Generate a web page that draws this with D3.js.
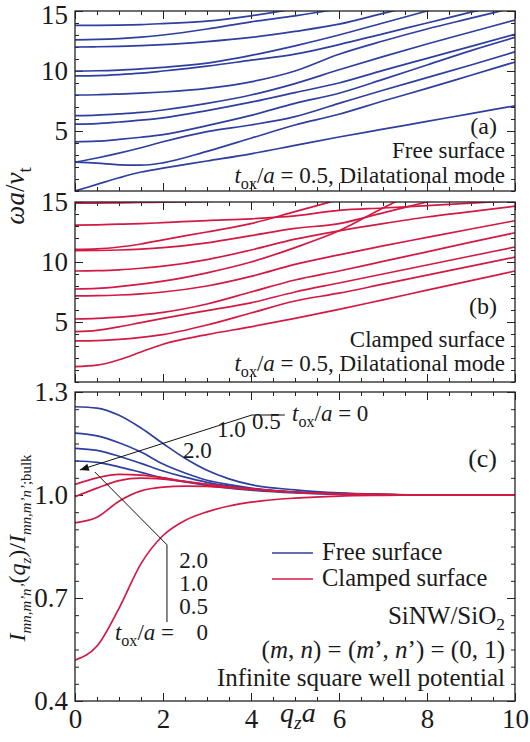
<!DOCTYPE html>
<html>
<head>
<meta charset="utf-8">
<script src="https://cdn.jsdelivr.net/npm/d3@7"></script>
<style>
  body { margin: 0; background: #fff; }
  text { font-family: "Liberation Serif", "Times New Roman", serif; fill: #1a1a1a; }
</style>
</head>
<body>
<div id="chart"></div>
<script>
// dispersion curves, omega*a/v_t sampled at qDisp
const qDisp = [0, 0.5, 1, 1.5, 2, 3, 4, 5, 6, 7, 8, 9, 10];
const freeModes = [
    [0, 0.55, 1.1, 1.58, 1.9, 2.5, 3.1, 3.8, 4.5, 5.15, 5.8, 6.45, 7.1],
    [2.4, 2.32, 2.18, 2.15, 2.35, 3.3, 4.4, 5.5, 6.4, 7.5, 8.55, 9.65, 10.75],
    [2.4, 2.75, 3.15, 3.6, 4.1, 4.95, 5.5, 6.2, 7.3, 8.4, 9.45, 10.5, 11.6],
    [4.1, 4.15, 4.3, 4.48, 4.7, 5.45, 6.3, 7.3, 8.15, 9.3, 10.5, 11.7, 12.8],
    [5.58, 5.62, 5.75, 5.9, 6.1, 6.7, 7.4, 8.2, 9.0, 10.05, 11.05, 12.05, 13.06],
    [6.28, 6.32, 6.42, 6.55, 6.75, 7.3, 8.0, 8.95, 10.1, 11.2, 12.25, 13.25, 14.25],
    [8.0, 8.02, 8.08, 8.15, 8.25, 8.55, 9.1, 10.0, 11.4, 12.5, 13.5, 14.4, 15.3],
    [9.6, 9.62, 9.7, 9.82, 10.0, 10.4, 10.9, 11.4, 12.2, 13.1, 14.0, 14.9, 15.8],
    [10.0, 10.02, 10.08, 10.18, 10.3, 10.65, 11.3, 12.1, 13.0, 14.0, 15.0, 16.0, 17.0],
    [12.0, 12.02, 12.06, 12.12, 12.2, 12.45, 12.8, 13.3, 13.9, 14.8, 15.7, 16.6, 17.5],
    [12.6, 12.63, 12.7, 12.82, 13.0, 13.5, 14.1, 14.6, 15.2, 16.0, 17.0, 18.0, 19.0],
    [13.8, 13.81, 13.83, 13.87, 13.95, 14.15, 14.6, 15.2, 16.0, 17.0, 18.0, 19.0, 20.0]
];
const clampedModes = [
    [1.28, 1.4, 1.85, 2.5, 3.15, 3.95, 4.6, 5.3, 6.05, 6.85, 7.65, 8.45, 9.25],
    [3.42, 3.45, 3.55, 3.72, 3.95, 4.75, 5.75, 6.75, 7.4, 8.15, 8.9, 9.65, 10.4],
    [4.19, 4.3, 4.6, 4.95, 5.3, 5.95, 6.6, 7.5, 8.25, 9.0, 9.75, 10.5, 11.25],
    [5.25, 5.3, 5.4, 5.58, 5.8, 6.5, 7.5, 8.5, 9.25, 10.05, 10.85, 11.65, 12.44],
    [7.17, 7.19, 7.25, 7.35, 7.5, 8.0, 8.8, 9.8, 10.6, 11.35, 12.05, 12.75, 13.44],
    [7.75, 7.8, 7.95, 8.15, 8.4, 9.1, 10.0, 11.2, 12.6, 14.5, 16.3, 18.0, 19.7],
    [9.25, 9.28, 9.35, 9.48, 9.65, 10.2, 11.0, 11.9, 12.6, 13.2, 13.75, 14.2, 14.65],
    [10.94, 10.96, 11.0, 11.08, 11.2, 11.6, 12.2, 12.8, 13.2, 14.1, 15.0, 15.9, 16.8],
    [11.06, 11.1, 11.25, 11.5, 11.85, 12.5, 13.2, 14.2, 15.2, 16.2, 17.2, 18.2, 19.2],
    [13.08, 13.1, 13.15, 13.2, 13.28, 13.45, 13.6, 13.85, 14.3, 14.5, 14.7, 14.9, 15.1],
    [14.9, 14.91, 14.93, 14.96, 14.99, 15.05, 15.3, 15.8, 16.4, 17.0, 17.6, 18.2, 18.8]
];

// overlap ratio I/I_bulk, one row per t_ox/a = 0, 0.5, 1.0, 2.0
const qOverlap = [0, 0.5, 1, 1.5, 2, 2.5, 3, 3.5, 4, 5, 6, 7, 8, 10];
const freeOverlap = [
    [1.257, 1.253, 1.232, 1.195, 1.15, 1.107, 1.072, 1.047, 1.03, 1.015, 1.006, 1.002, 1.0, 1.0],
    [1.18, 1.172, 1.152, 1.125, 1.09, 1.064, 1.043, 1.03, 1.02, 1.009, 1.004, 1.001, 1.0, 1.0],
    [1.136, 1.13, 1.113, 1.092, 1.07, 1.052, 1.037, 1.026, 1.018, 1.008, 1.003, 1.001, 1.0, 1.0],
    [1.099, 1.095, 1.082, 1.066, 1.05, 1.038, 1.028, 1.02, 1.014, 1.006, 1.002, 1.0, 1.0, 1.0]
];
const clampedOverlap = [
    [0.519, 0.56, 0.67, 0.8, 0.882, 0.926, 0.951, 0.968, 0.979, 0.991, 0.997, 0.999, 1.0, 1.0],
    [0.919, 0.935, 0.982, 1.012, 1.023, 1.026, 1.025, 1.021, 1.016, 1.008, 1.003, 1.001, 1.0, 1.0],
    [0.995, 1.02, 1.042, 1.049, 1.046, 1.039, 1.031, 1.024, 1.018, 1.008, 1.003, 1.001, 1.0, 1.0],
    [1.031, 1.05, 1.06, 1.058, 1.05, 1.04, 1.031, 1.023, 1.017, 1.008, 1.003, 1.001, 1.0, 1.0]
];
const toxLabels = ["0", "0.5", "1.0", "2.0"];

const dispTicks = [5, 10, 15];
const dispMinor = d3.range(0, 16, 1);
const overlapTicks = [0.4, 0.7, 1.0, 1.3];
const overlapMinor = d3.range(0, 19).map(i => 0.4 + i * 0.05);
const qTicks = [0, 2, 4, 6, 8, 10];
const qMinor = d3.range(0, 21).map(i => i * 0.5);

const blue = "#2e3f9f";
const red = "#d21a44";
const serif = '"Liberation Serif", "Times New Roman", serif';

const svg = d3.select("#chart")
    .append("svg")
    .attr("width", 530)
    .attr("height", 742);

const x = d3.scaleLinear().domain([0, 10]).range([75, 515]);
const ya = d3.scaleLinear().domain([0, 15]).range([191, 11]);
const yb = d3.scaleLinear().domain([0, 15]).range([382, 202]);
const yc = d3.scaleLinear().domain([0.4, 1.3]).range([701, 392]);

const defs = svg.append("defs");
defs.append("marker")
    .attr("id", "arrowhead")
    .attr("viewBox", "0 -5 10 10")
    .attr("refX", 10)
    .attr("markerWidth", 15)
    .attr("markerHeight", 9)
    .attr("markerUnits", "userSpaceOnUse")
    .attr("orient", "auto")
    .append("path")
        .attr("d", "M0,-4L10,0L0,4Z")
        .style("fill", "#111");

// frame, inward ticks on all four sides
function drawPanel(id, y, major, minor, fmt, xLabels) {
    const [bottom, top] = y.range();
    const g = svg.append("g").attr("class", "panel-" + id);

    defs.append("clipPath").attr("id", "clip-" + id)
        .append("rect")
        .attr("x", x(0)).attr("y", top)
        .attr("width", x(10) - x(0)).attr("height", bottom - top);

    const sides = [
        [d3.axisLeft, y, `translate(${x(0)},0)`, major, minor, fmt, 7],
        [d3.axisRight, y, `translate(${x(10)},0)`, major, minor, "", 6],
        [d3.axisTop, x, `translate(0,${top})`, qTicks, qMinor, "", 6],
        [d3.axisBottom, x, `translate(0,${bottom})`, qTicks, qMinor, xLabels ? d3.format("d") : "", 8]
    ];
    sides.forEach(([axis, scale, tr, maj, mnr, f, pad]) => {
        g.append("g").attr("transform", tr)
            .call(axis(scale).tickValues(mnr).tickSize(-4).tickFormat(""))
            .call(s => s.select(".domain").remove());
        g.append("g").attr("transform", tr)
            .attr("class", "major")
            .call(axis(scale).tickValues(maj).tickSize(-8).tickPadding(pad).tickFormat(f))
            .call(s => s.select(".domain").remove())
            .call(s => s.selectAll("text")
                .style("font-family", serif)
                .style("font-size", "27px")
                .style("fill", "#1a1a1a"));
    });
    g.selectAll(".tick line").attr("stroke", "#222").attr("stroke-width", 1);

    g.append("rect")
        .attr("x", x(0)).attr("y", top)
        .attr("width", x(10) - x(0)).attr("height", bottom - top)
        .style("fill", "none")
        .style("stroke", "#222")
        .style("stroke-width", 1.3);

    return g;
}

function curves(g, id, y, qs, rows, color) {
    const line = d3.line()
        .x(d => x(d[0]))
        .y(d => y(d[1]))
        .curve(d3.curveMonotoneX);
    g.insert("g", "rect")
        .attr("clip-path", `url(#clip-${id})`)
        .selectAll(null)
        .data(rows.map(r => r.map((v, i) => [qs[i], v])))
        .enter().append("path")
            .attr("d", line)
            .style("fill", "none")
            .style("stroke", color)
            .style("stroke-width", 1.7);
}

// text with italics and subscripts: parts = [text, italic, subscript]
function rich(sel, parts, size, subScale) {
    const k = subScale || 0.7;
    let shift = 0;
    parts.forEach(p => {
        const sub = !!p[2];
        const ts = sel.append("tspan").text(p[0])
            .style("font-size", (sub ? size * k : size) + "px");
        if (p[1]) ts.style("font-style", "italic");
        const target = sub ? size * 0.25 : 0;
        if (target !== shift) {
            ts.attr("dy", target - shift);
            shift = target;
        }
    });
    return sel;
}

function label(txt, px, py, size, anchor) {
    return svg.append("text")
        .attr("x", px).attr("y", py)
        .attr("text-anchor", anchor || "end")
        .style("font-size", size + "px")
        .text(txt);
}

const toxParts = [["t", true], ["ox", false, true], ["/", false], ["a", true], [" = 0.5, Dilatational mode", false]];

// (a) free surface dispersion
const panelA = drawPanel("a", ya, dispTicks, dispMinor, d3.format("d"), false);
curves(panelA, "a", ya, qDisp, freeModes, blue);
// the top label sits a little lower so it stays inside the picture
panelA.selectAll(".major .tick text").filter(d => d === 15).attr("dy", "0.45em");
label("(a)", 497, 134, 24);
label("Free surface", 505, 158, 23);
rich(label("", 505, 183, 23), toxParts, 23);

// (b) clamped surface dispersion
const panelB = drawPanel("b", yb, dispTicks, dispMinor, d3.format("d"), false);
curves(panelB, "b", yb, qDisp, clampedModes, red);
label("(b)", 497, 314, 24);
label("Clamped surface", 505, 347, 23);
rich(label("", 505, 371, 23), toxParts, 23);

// (c) overlap integral ratio
const panelC = drawPanel("c", yc, overlapTicks, overlapMinor, d3.format(".1f"), true);
curves(panelC, "c", yc, qOverlap, freeOverlap, blue);
curves(panelC, "c", yc, qOverlap, clampedOverlap, red);
label("(c)", 497, 467, 26);
rich(label("", 505, 624, 25), [["SiNW/SiO", false], ["2", false, true]], 25);
rich(label("", 505, 658, 25), [["(", false], ["m", true], [", ", false], ["n", true], [") = (", false],
    ["m", true], ["’, ", false], ["n", true], ["’) = (0, 1)", false]], 25);
label("Infinite square well potential", 505, 686, 25);

// legend
[["Free surface", blue, 553], ["Clamped surface", red, 579]].forEach(([name, color, ly]) => {
    svg.append("line")
        .attr("x1", 272).attr("x2", 313)
        .attr("y1", ly).attr("y2", ly)
        .style("stroke", color)
        .style("stroke-width", 1.7);
    label(name, 322, ly + 7, 24.5, "start");
});

// t_ox/a annotations with the shared arrow
const pointer = d3.line().x(d => x(d[0])).y(d => yc(d[1]));
svg.append("path")
    .attr("d", pointer([[4.77, 1.233], [4.02, 1.233], [0.11, 1.073]]))
    .attr("marker-end", "url(#arrowhead)")
    .style("fill", "none").style("stroke", "#111").style("stroke-width", 1);
svg.append("path")
    .attr("d", pointer([[2.09, 0.63], [2.09, 0.855], [0.45, 1.067]]))
    .style("fill", "none").style("stroke", "#111").style("stroke-width", 1);

rich(label("", 292, 421, 23, "start"), [["t", true], ["ox", false, true], ["/", false], ["a", true], [" = " + toxLabels[0], false]], 23);
label(toxLabels[1], 252, 429, 23, "start");
label(toxLabels[2], 217, 437, 23, "start");
label(toxLabels[3], 183, 458, 23, "start");

label(toxLabels[3], 208, 568, 23);
label(toxLabels[2], 208, 591, 23);
label(toxLabels[1], 208, 614, 23);
label(toxLabels[0], 208, 640, 23);
rich(label("", 174, 640, 23), [["t", true], ["ox", false, true], ["/", false], ["a", true], [" =", false]], 23);

// axis titles
rich(svg.append("text")
    .attr("transform", "translate(24,196) rotate(-90)")
    .attr("text-anchor", "middle"),
    [["ωa", true], ["/", false], ["v", true], ["t", false, true]], 27);

rich(svg.append("text")
    .attr("transform", "translate(25,548) rotate(-90)")
    .attr("text-anchor", "middle"),
    [["I", true], ["mn,m’n’", true, true], ["(", false], ["q", true], ["z", true, true], [")", false],
     ["/", false], ["I", true], ["mn,m’n’", true, true], [";bulk", false, true]], 24, 0.62);

rich(svg.append("text").attr("x", 280).attr("y", 722),
    [["q", true], ["z", true, true], ["a", true]], 28);
</script>
</body>
</html>
